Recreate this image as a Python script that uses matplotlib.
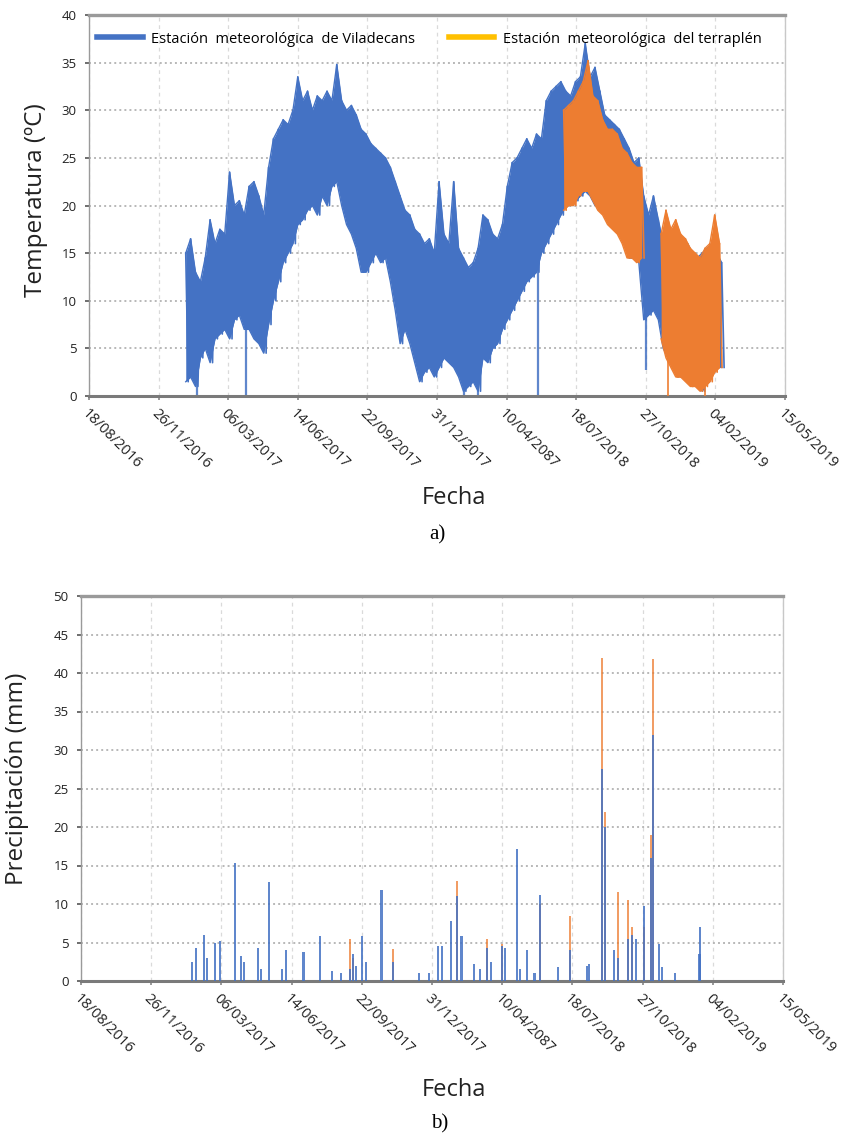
import matplotlib
matplotlib.use('Agg')
import matplotlib.pyplot as plt
import numpy as np
import pandas as pd
from matplotlib.lines import Line2D

BLUE = '#4472C4'
ORANGE = '#ED7D31'
LEG_ORANGE = '#FFC000'
GRID_H = '#B8B8B8'
GRID_V = '#DADADA'
SPINE = '#9A9A9A'

# ---------------- data ----------------
tick_dates = ['2016-08-18', '2016-11-26', '2017-03-06', '2017-06-14', '2017-09-22',
              '2017-12-31', '2018-04-10', '2018-07-18', '2018-10-27', '2019-02-04',
              '2019-05-15']
tick_labels = ['18/08/2016', '26/11/2016', '06/03/2017', '14/06/2017', '22/09/2017',
               '31/12/2017', '10/04/2087', '18/07/2018', '27/10/2018', '04/02/2019',
               '15/05/2019']

# Viladecans station: weekly max / min temperature (ºC), weeks starting 2017-01-04
vil_start = '2017-01-04'
vil_tmax = [15, 16.5, 13, 12, 14.5, 18.5, 16, 17.5, 17, 23.5, 20, 20.5, 19, 22, 22.5,
            21, 19, 24, 27, 28, 29, 28.5, 30, 33.5, 31, 32, 30, 31.5, 31, 32, 31, 34.8,
            31, 30, 30.5, 29.5, 28,
            27.5, 26.5, 26, 25.5, 25, 24, 22.5, 21, 19.5, 19, 17.5, 17, 16, 16.5, 15,
            22.5, 17, 16, 22.5, 15.5, 14.5, 13.5, 14, 15.5, 19, 18.5, 17, 16.5, 18, 22,
            24.5, 25, 26, 27, 26, 27.5, 27, 31, 32,
            32.5, 33, 32, 31.5, 33, 33.5, 37, 33.5, 34.5, 32, 29.5, 29, 28.5, 28, 27,
            26, 24.5, 25, 21, 19, 21, 18.5, 16, 17, 17.5, 17, 16.5, 16, 15, 14.5, 15,
            15.5, 16, 15, 14]
vil_tmin = [1.5, 2, 1, 4, 5, 3.5, 6, 6.5, 7, 6, 8, 8.5, 7, 7, 6, 5.5, 4.5, 7.5, 10, 12,
            14, 15, 16, 18, 18.5, 19.5, 20, 19, 21, 20, 22, 22.5, 20, 18, 17, 15.5, 13,
            13, 14, 15, 14, 14.5, 12, 9, 5.5, 7, 5.5, 3.5, 1.5, 2.5, 3, 2, 3, 4, 3.5, 3,
            2, 0.5, 1, 1.5, 0.5, 4, 3.5, 5, 5.5, 7, 8, 9, 10, 11, 12, 12.5, 13, 15, 16, 17,
            18, 19, 20, 20, 20.5, 21, 21.5, 21, 20, 20, 19, 18, 17.5, 17, 16, 14.5, 14.5,
            14, 8, 8.5, 9, 8, 5, 4, 3, 2, 2.5, 2, 1.5, 1, 0.5, 1.5, 2.5, 3, 3]

# Embankment station (terraplén): two recorded periods, weekly max / min
ter1_start = '2018-07-01'
ter1_tmax = [30, 30.5, 31, 32, 33, 35.2, 31.5, 31, 29, 28, 28, 27.5, 26, 25.5, 24.5, 24, 24]
ter1_tmin = [19.5, 20, 20, 21, 21.5, 21.5, 20.5, 19.5, 19, 18, 17.5, 17, 16, 14.5, 14.5, 14, 14.5]
ter2_start = '2018-11-18'
ter2_tmax = [17, 19.5, 17.5, 18.5, 17, 16.5, 15.5, 15, 14.5, 15.5, 16, 19, 16]
ter2_tmin = [6, 4, 3, 2, 2, 1.5, 1, 1, 0.5, 1, 1.5, 2.5, 3]

# isolated drops of the records (date, from, to)
vil_drop_dates = ['2017-01-20', '2017-03-31', '2018-02-08', '2018-02-28', '2018-05-25', '2018-10-27']
vil_drop_top = [8, 9, 6, 5, 16, 10]
vil_drop_bottom = [0, 0, 0, 0, 0, 2.7]
ter_drop_dates = ['2018-11-28', '2019-01-20']
ter_drop_top = [6, 5]
ter_drop_bottom = [0, 0]

# Daily precipitation (mm)
precip_dates = ['2017-01-23', '2017-01-29', '2017-02-09', '2017-02-13', '2017-02-25',
                '2017-03-04', '2017-03-25', '2017-04-03', '2017-04-07', '2017-04-27',
                '2017-05-01', '2017-05-13', '2017-05-31', '2017-06-06', '2017-07-01',
                '2017-07-24', '2017-08-11', '2017-08-23', '2017-09-05', '2017-09-10',
                '2017-09-14', '2017-09-22', '2017-09-28', '2017-10-20', '2017-11-05',
                '2017-12-12', '2017-12-27', '2018-01-08', '2018-01-14', '2018-01-27',
                '2018-02-04', '2018-02-11', '2018-03-01', '2018-03-10', '2018-03-19',
                '2018-03-25', '2018-04-10', '2018-04-14', '2018-05-01', '2018-05-05',
                '2018-05-15', '2018-05-26', '2018-06-03', '2018-06-28', '2018-07-15',
                '2018-08-09', '2018-08-12', '2018-08-30', '2018-09-03', '2018-09-16',
                '2018-09-22', '2018-10-06', '2018-10-12', '2018-10-17', '2018-10-29',
                '2018-11-08', '2018-11-11', '2018-11-19', '2018-11-24', '2018-12-12',
                '2019-01-16', '2019-01-17']
precip_vil = [2.5, 4.3, 6.0, 3.0, 5.0, 5.2, 15.3, 3.2, 2.5, 4.3, 1.5, 12.8, 1.5, 4.0, 3.8,
              5.8, 1.3, 1.0, 1.5, 3.5, 2.0, 5.8, 2.5, 11.8, 2.5, 1.0, 1.0, 4.5, 4.5, 7.8,
              11.0, 5.8, 2.2, 1.5, 4.3, 2.5, 4.5, 4.3, 17.2, 1.5, 4.0, 1.0, 11.2, 1.8, 4.0,
              2.0, 2.2, 27.5, 20.0, 4.0, 3.0, 5.5, 6.0, 5.5, 9.8, 16.0, 32.0, 4.8, 1.8, 1.0,
              3.5, 7.0]
precip_ter = [0, 0, 0, 0, 0, 0, 0, 0, 0, 0, 0, 0, 0, 0, 0,
              0, 0, 0, 5.5, 3.0, 0, 0, 0, 0, 4.2, 0, 0, 0, 0, 0,
              13.0, 0, 0, 0, 5.5, 0, 4.8, 0, 0, 0, 0, 0, 10.0, 0, 8.5,
              0, 0, 42.0, 22.0, 0, 11.5, 10.5, 7.0, 0, 7.0, 19.0, 41.8, 0, 0, 0,
              0, 0]

# ---------------- helpers ----------------
def draw_band(ax, start, tmax, tmin, color, zorder):
    # weekly maximum at the start of the week, weekly minimum half a week later
    d = pd.date_range(start, periods=len(tmax), freq='7D')
    dmin = d + pd.Timedelta(hours=84)
    ax.fill_between(d, tmin, tmax, color=color, lw=0, zorder=zorder)
    xs = np.empty(2 * len(d), dtype='datetime64[ns]')
    ys = np.empty(2 * len(d))
    xs[0::2] = d.values
    xs[1::2] = dmin.values
    ys[0::2] = tmax
    ys[1::2] = tmin
    ax.plot(xs, ys, color=color, lw=1.2, zorder=zorder + 0.1)
    ax.plot(d, tmax, color=color, lw=1.0, zorder=zorder + 0.1)
    ax.plot(d, tmin, color=color, lw=1.0, zorder=zorder + 0.1)

def style_axes(ax, ymax):
    ax.set_xlim(pd.Timestamp(tick_dates[0]), pd.Timestamp(tick_dates[-1]))
    ax.set_ylim(0, ymax)
    ax.set_yticks(np.arange(0, ymax + 1, 5))
    ax.set_xticks(pd.to_datetime(tick_dates))
    ax.set_xticklabels(tick_labels, rotation=-45, ha='left', va='top',
                       rotation_mode='anchor', fontsize=10.5, color='#222222',
                       family='Open Sans')
    for lab in ax.get_yticklabels():
        lab.set_fontsize(9.5)
        lab.set_family('Open Sans')
        lab.set_color('#222222')
    ax.tick_params(axis='x', length=3, width=1.2, color='#888888', pad=4)
    ax.tick_params(axis='y', length=3, width=1.2, color='#555555', pad=6)
    ax.grid(axis='y', linestyle=(0, (1, 1.6)), color=GRID_H, lw=1.4, zorder=0)
    ax.grid(axis='x', linestyle=(0, (3, 3)), color=GRID_V, lw=0.9, zorder=0)
    ax.set_axisbelow(True)
    for s in ['left', 'right']:
        ax.spines[s].set_color(SPINE)
        ax.spines[s].set_linewidth(1.0)
    ax.spines['right'].set_color('#C8C8C8')
    ax.spines['top'].set_color(SPINE)
    ax.spines['top'].set_linewidth(2.4)
    ax.spines['bottom'].set_color('#7A7A7A')
    ax.spines['bottom'].set_linewidth(2.2)

# ---------------- figure ----------------
fig = plt.figure(figsize=(8.44, 11.35), dpi=100)

# a) temperature
ax1 = fig.add_axes([89 / 844, 1 - 396 / 1135, 696 / 844, 381 / 1135])
draw_band(ax1, vil_start, vil_tmax, vil_tmin, BLUE, 2)
ax1.vlines(pd.to_datetime(vil_drop_dates), vil_drop_bottom, vil_drop_top,
           color=BLUE, lw=1.6, alpha=0.85, zorder=2)
draw_band(ax1, ter1_start, ter1_tmax, ter1_tmin, ORANGE, 3)
draw_band(ax1, ter2_start, ter2_tmax, ter2_tmin, ORANGE, 3)
ax1.vlines(pd.to_datetime(ter_drop_dates), ter_drop_bottom, ter_drop_top,
           color=ORANGE, lw=1.4, alpha=0.85, zorder=3)
style_axes(ax1, 40)

handles = [Line2D([], [], color=BLUE, lw=4),
           Line2D([], [], color=LEG_ORANGE, lw=4)]
ax1.legend(handles, ['Estación  meteorológica  de Viladecans',
                     'Estación  meteorológica  del terraplén'],
           loc='center left', bbox_to_anchor=(0.012, 0.937), ncol=2, frameon=False,
           borderpad=0, borderaxespad=0, handlelength=3.1, handletextpad=0.6,
           columnspacing=2.3, prop={'family': 'Open Sans', 'size': 10.5})

fig.text(36 / 844, 1 - 200 / 1135, 'Temperatura (ºC)', rotation=90, ha='center',
         va='center', fontsize=17.5, family='Open Sans', color='#222222')
fig.text(454 / 844, 1 - 498 / 1135, 'Fecha', ha='center', va='center', fontsize=17,
         family='Open Sans', color='#222222')
fig.text(437 / 844, 1 - 535 / 1135, 'a)', ha='center', va='center', fontsize=15,
         family='Liberation Serif', color='black')

# b) precipitation
ax2 = fig.add_axes([81 / 844, 1 - 981 / 1135, 702 / 844, 385 / 1135])
pdates = pd.to_datetime(precip_dates)
ax2.bar(pdates, precip_ter, width=3.0, color=ORANGE, alpha=0.75, lw=0, zorder=2)
ax2.bar(pdates, precip_vil, width=3.0, color=BLUE, alpha=0.85, lw=0, zorder=3)
style_axes(ax2, 50)

fig.text(17 / 844, 1 - 779 / 1135, 'Precipitación (mm)', rotation=90, ha='center',
         va='center', fontsize=17.5, family='Open Sans', color='#222222')
fig.text(454 / 844, 1 - 1090 / 1135, 'Fecha', ha='center', va='center', fontsize=17,
         family='Open Sans', color='#222222')
fig.text(440 / 844, 1 - 1124 / 1135, 'b)', ha='center', va='center', fontsize=15,
         family='Liberation Serif', color='black')

fig.savefig('out.png', dpi=100)
